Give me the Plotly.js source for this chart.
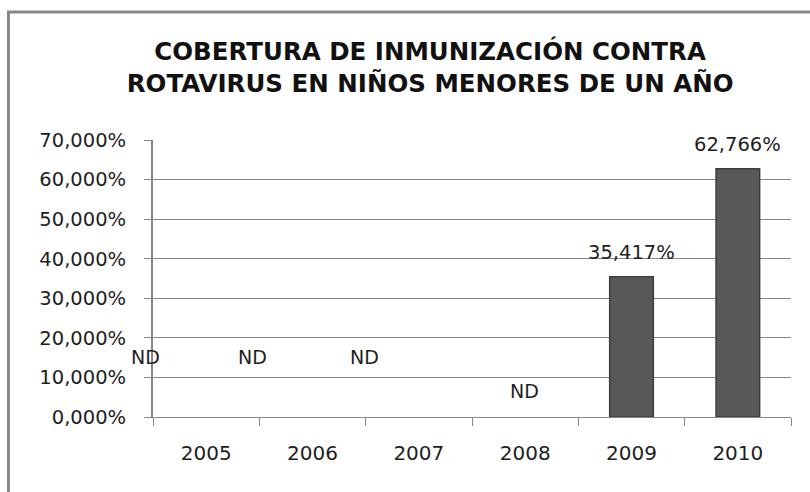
<!DOCTYPE html>
<html>
<head>
<meta charset="utf-8">
<script src="https://cdn.plot.ly/plotly-3.0.1.min.js"></script>
<style>html,body{margin:0;padding:0;background:#fff;}#chart{width:810px;height:492px;}</style>
</head>
<body>
<div id="chart"></div>
<script>
const years = ['2005', '2006', '2007', '2008', '2009', '2010'];
const coverage = [null, null, null, null, 35.417, 62.766];
const labelYears = ['2009', '2010'];
const labelValues = [35.417, 62.766];
const labelTexts = ['35,417%', '62,766%'];
const ndTexts = ['ND', 'ND', 'ND', 'ND'];
const ndX = [-0.011, 0.156, 0.331, 0.583];
const ndY = [15.2, 15.2, 15.2, 6.6];
const titleText = 'COBERTURA DE INMUNIZACIÓN CONTRA<br>ROTAVIRUS EN NIÑOS MENORES DE UN AÑO';

const FONT = 'DejaVu Sans, sans-serif';
const GRID = '#878787';
const TXT = '#1e1e1e';

const trace = {
  type: 'bar',
  x: years,
  y: coverage,
  width: 0.41,
  marker: { color: '#585858', line: { color: '#3c3c3c', width: 1.5 } },
  hoverinfo: 'skip'
};

const annotations = [];
labelYears.forEach((yr, i) => {
  annotations.push({
    x: years.indexOf(yr), y: labelValues[i], xref: 'x', yref: 'y',
    xanchor: 'center', yanchor: 'middle',
    text: labelTexts[i], showarrow: false, yshift: 24,
    font: { family: FONT, size: 19.5, color: TXT }
  });
});
ndTexts.forEach((t, i) => {
  annotations.push({
    x: ndX[i], y: ndY[i], xref: 'paper', yref: 'y',
    xanchor: 'center', yanchor: 'middle',
    text: t, showarrow: false,
    font: { family: FONT, size: 19, color: TXT }
  });
});

const layout = {
  width: 810, height: 492,
  margin: { l: 153, r: 19, t: 140, b: 75 },
  paper_bgcolor: '#ffffff', plot_bgcolor: '#ffffff',
  separators: ',.',
  showlegend: false,
  title: {
    text: titleText,
    font: { family: FONT, size: 24.5, color: '#111', weight: 'bold' },
    xref: 'container', yref: 'container',
    x: 0.531, y: 0.878, xanchor: 'center', yanchor: 'middle'
  },
  xaxis: {
    type: 'category',
    categoryorder: 'array', categoryarray: years,
    range: [-0.5, 5.5], autorange: false,
    showgrid: false,
    showline: true, linecolor: GRID, linewidth: 1,
    ticks: 'outside', ticklen: 8, tickcolor: GRID, tickson: 'boundaries',
    ticklabelstandoff: 18,
    tickfont: { family: FONT, size: 20, color: TXT },
    fixedrange: true
  },
  yaxis: {
    range: [0, 70], autorange: false,
    tick0: 0, dtick: 10,
    tickformat: '.3f', ticksuffix: '%',
    showgrid: true, gridcolor: GRID, gridwidth: 1,
    showline: true, linecolor: GRID, linewidth: 2,
    zeroline: false,
    ticks: 'outside', ticklen: 7, tickcolor: GRID,
    ticklabelstandoff: 14,
    tickfont: { family: FONT, size: 19.5, color: TXT },
    fixedrange: true
  },
  annotations: annotations,
  shapes: [{
    type: 'rect', xref: 'paper', yref: 'paper',
    x0: -0.2265, x1: 1.05, y0: -0.35, y1: 1.462,
    line: { color: '#888888', width: 3 }, fillcolor: 'rgba(0,0,0,0)',
    layer: 'above'
  }]
};

Plotly.newPlot('chart', [trace], layout, { displayModeBar: false, staticPlot: true });
</script>
</body>
</html>
